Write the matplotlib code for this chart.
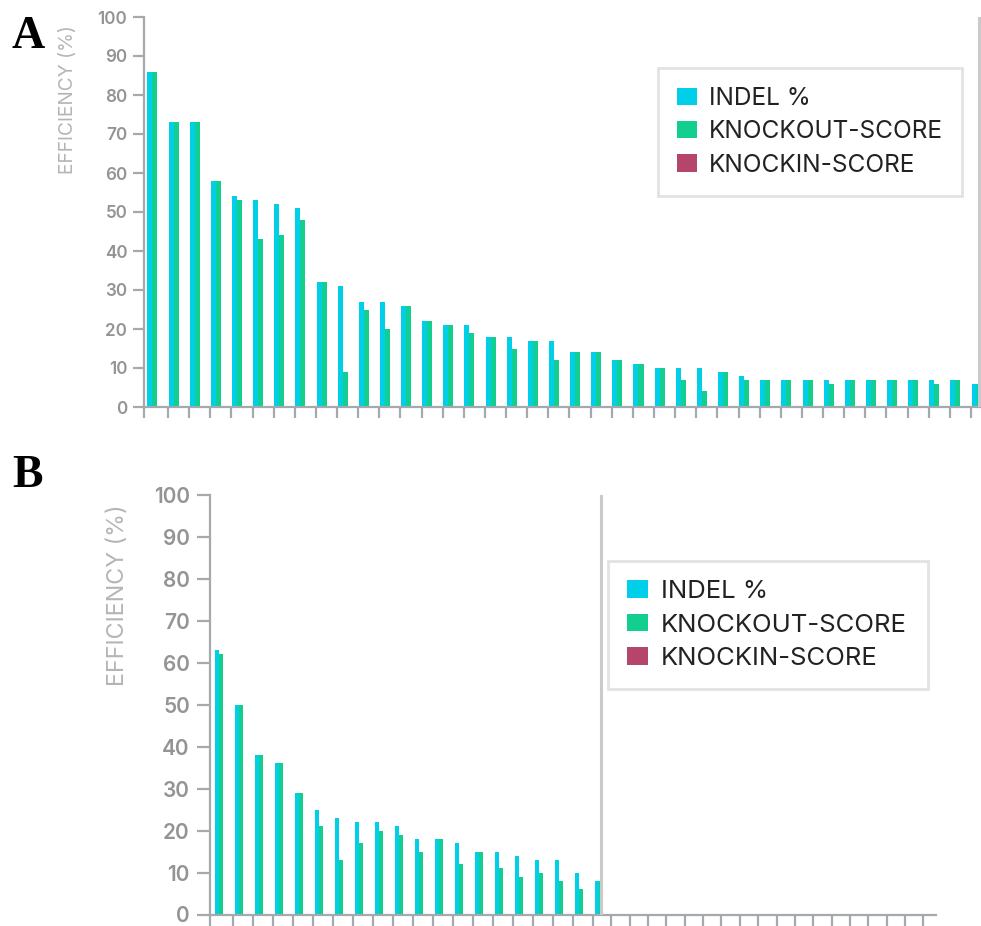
import matplotlib
matplotlib.use('Agg')
import matplotlib.pyplot as plt
import numpy as np
from matplotlib.patches import Patch

plt.rcParams['font.family'] = ['Inter', 'DejaVu Sans']

# ---------------- data ----------------
series_names = ['INDEL %', 'KNOCKOUT-SCORE', 'KNOCKIN-SCORE']

indel_A = [86, 73, 73, 58, 54, 53, 52, 51, 32, 31,
           27, 27, 26, 22, 21, 21, 18, 18, 17, 17,
           14, 14, 12, 11, 10, 10, 10, 9, 8, 7,
           7, 7, 7, 7, 7, 7, 7, 7, 7, 6]
knockout_A = [86, 73, 73, 58, 53, 43, 44, 48, 32, 9,
              25, 20, 26, 22, 21, 19, 18, 15, 17, 12,
              14, 14, 12, 11, 10, 7, 4, 9, 7, 7,
              7, 7, 6, 7, 7, 7, 7, 6, 7, 6]
knockin_A = [0, 0, 0, 0, 0, 0, 0, 0, 0, 0,
             0, 0, 0, 0, 0, 0, 0, 0, 0, 0,
             0, 0, 0, 0, 0, 0, 0, 0, 0, 0,
             0, 0, 0, 0, 0, 0, 0, 0, 0, 0]

indel_B = [63, 50, 38, 36, 29, 25, 23, 22, 22, 21,
           18, 18, 17, 15, 15, 14, 13, 13, 10, 8]
knockout_B = [62, 50, 38, 36, 29, 21, 13, 17, 20, 19,
              15, 18, 12, 15, 11, 9, 10, 8, 6, 8]
knockin_B = [0, 0, 0, 0, 0, 0, 0, 0, 0, 0,
             0, 0, 0, 0, 0, 0, 0, 0, 0, 0]

y_ticks = [0, 10, 20, 30, 40, 50, 60, 70, 80, 90, 100]
y_label = 'EFFICIENCY (%)'

# ---------------- style ----------------
W, H = 981, 926
CY, GR, KI = '#00CFE9', '#12CF90', '#B5456A'
SP = '#a4a9ad'
TL = '#949494'
YL = '#b5b5b5'
LINE = '#cacaca'

fig = plt.figure(figsize=(W / 100, H / 100), dpi=100)


def rect(l, r, t, b):
    return [l / W, 1 - b / H, (r - l) / W, (b - t) / H]


def panel(r, indel, ko, ki, width, xlim, xticks, fs_tick, ytl, xtl, pad,
          leg_box, leg_fs, hl, hh, ls, bp):
    ax = fig.add_axes(r)
    x = np.arange(len(indel))
    ax.bar(x - width, indel, width, color=CY, linewidth=0)
    ax.bar(x, ko, width, color=GR, linewidth=0)
    ax.bar(x + width, ki, width, color=KI, linewidth=0)
    ax.axvline(x[-1], color=LINE, lw=2.2, zorder=5)
    ax.set_xlim(*xlim)
    ax.set_ylim(0, 100)
    for s in ['top', 'right']:
        ax.spines[s].set_visible(False)
    for s in ['left', 'bottom']:
        ax.spines[s].set_color(SP)
        ax.spines[s].set_linewidth(1.6)
    ax.set_yticks(y_ticks)
    ax.set_xticks(xticks)
    ax.set_xticklabels([])
    ax.tick_params(axis='y', length=ytl, width=1.6, color=SP, labelcolor=TL,
                   labelsize=fs_tick, pad=pad)
    ax.tick_params(axis='x', length=xtl, width=1.6, color=SP)
    for lab in ax.get_yticklabels():
        lab.set_fontweight('semibold')
    handles = [Patch(facecolor=c, edgecolor='none') for c in (CY, GR, KI)]
    lx, ly, lw, lh = leg_box
    leg = ax.legend(handles, series_names, loc='upper left',
                    bbox_to_anchor=(lx / W, 1 - (ly + lh) / H, lw / W, lh / H),
                    bbox_transform=fig.transFigure, mode='expand',
                    frameon=True, fancybox=False, framealpha=1,
                    edgecolor='#e2e2e2', fontsize=leg_fs,
                    borderpad=bp, handlelength=hl, handleheight=hh,
                    handletextpad=0.5, labelspacing=ls, borderaxespad=0)
    leg.get_frame().set_linewidth(2)
    for t in leg.get_texts():
        t.set_color('#222222')
    return ax


# Panel A
xa = np.arange(len(indel_A))
ticks_A = np.concatenate([[-0.52], xa[1:] - 0.385])
panel(rect(144, 981, 17, 407), indel_A, knockout_A, knockin_A, 0.237,
      (-0.52, 39.09), ticks_A, 12.3, 8, 8, 4,
      (658, 68, 304, 125), 17.6, 0.82, 0.7, 0.42, 0.78)

# Panel B
xb = np.arange(len(indel_B))
ticks_B = np.concatenate([[-0.55], xb[1:] - 0.4,
                          18.6 + 0.9175 * np.arange(1, 19)])
panel(rect(210, 936, 495, 914.5), indel_B, knockout_B, knockin_B, 0.2,
      (-0.55, 35.75), ticks_B, 15, 9.5, 9, 5,
      (608, 561, 320, 130), 18.5, 0.8, 0.68, 0.4, 0.75)

# y-axis labels
fig.text(68 / W, 1 - 25 / H, y_label, rotation=90, ha='center', va='top',
         color=YL, fontsize=13.8)
fig.text(118 / W, 1 - 505 / H, y_label, rotation=90, ha='center', va='top',
         color=YL, fontsize=16.8)

# panel letters
fig.text(12 / W, 1 - 16 / H, 'A', ha='left', va='top', fontsize=33,
         fontweight='bold', family='Liberation Serif')
fig.text(12 / W, 1 - 455 / H, 'B', ha='left', va='top', fontsize=33,
         fontweight='bold', family='Liberation Serif')

fig.savefig('out.png', dpi=100)
